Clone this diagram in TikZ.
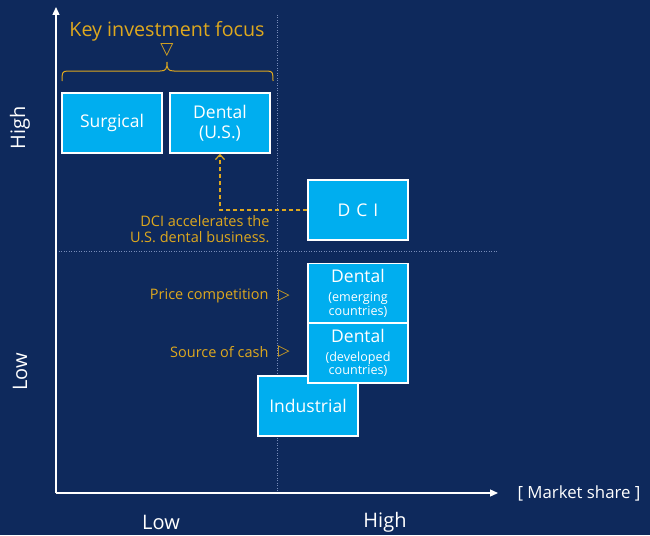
\documentclass[tikz,border=0pt]{standalone}
\usepackage{fontspec}
\setmainfont{Open Sans}
\newfontfamily\symfont{DejaVu Sans}
\newcommand\subsz{\fontsize{12.6}{13}\selectfont}
\usetikzlibrary{arrows.meta}
\definecolor{bg}{RGB}{14,41,92}
\definecolor{boxc}{RGB}{0,174,239}
\definecolor{gold}{RGB}{222,168,30}
\definecolor{dotc}{RGB}{120,140,185}
\tikzset{
  boxn/.style={draw=white, line width=1.4pt, fill=boxc, text=white, minimum width=100pt, minimum height=60pt, inner sep=0pt, align=center, font=\fontsize{17.5}{20}\selectfont},
  axis/.style={draw=white, line width=1.3pt, -{Triangle[length=8pt,width=7pt]}},
  grid/.style={draw=dotc, line width=0.5pt, dash pattern=on 1pt off 1.5pt},
  axlab/.style={text=white, font=\fontsize{20}{23}\selectfont},
  goldlab/.style={text=gold, font=\fontsize{14.5}{16}\selectfont},
  tri/.style={text=gold, font=\symfont\fontsize{15}{16}\selectfont, inner sep=0pt}
}
\begin{document}
\begin{tikzpicture}[x=1pt,y=-1pt]
\fill[bg] (0,0) rectangle (650,535);
\useasboundingbox (0,0) rectangle (650,535);
% grid lines
\draw[grid] (277,15) -- (277,493);
\draw[grid] (56,251) -- (497,251);
% axes
\coordinate (o) at (56,493);
\coordinate (ytip) at (56,7);
\coordinate (xtip) at (498,493);
\draw[axis] (o) -- (ytip);
\draw[axis] (o) -- (xtip);
% axis labels
\node[axlab, rotate=90] (yhigh) at (20,128) {High};
\node[axlab, rotate=90] (ylow) at (20,372) {Low};
\node[axlab] (xlow) at (161,522) {Low};
\node[axlab] (xhigh) at (385,522) {High};
\node[axlab, font=\fontsize{16.8}{19}\selectfont] (xname) at (579,493) {[ Market share ]};
% key investment focus
\node[text=gold, font=\fontsize{19.7}{22}\selectfont] (kif) at (167,31) {Key investment focus};
\node[tri, font=\symfont\fontsize{17}{18}\selectfont] (kiftri) at (167,50) {▽};
\draw[gold, line width=1pt] (62,81) .. controls (62,73) and (62,71) .. (68,71) -- (160,71) .. controls (166,71) and (167,69) .. (167,62)
  .. controls (167,69) and (168,71) .. (174,71) -- (267,71) .. controls (273,71) and (273,73) .. (273,81);
% boxes
\node[boxn] (surgical) at (112,123) {Surgical};
\node[boxn] (dentalus) at (220,123) {Dental\\(U.S.)};
\node[boxn] (dci) at (358,210) {D\hspace{6pt}C\hspace{6pt}I};
\node[boxn] (industrial) at (308,406) {Industrial};
\node[boxn] (dentalem) at (358,293.5) {Dental\\[-1pt]\subsz (emerging\\[-6.5pt]\subsz countries)};
\node[boxn] (dentaldev) at (358,353) {Dental\\[-1pt]\subsz (developed\\[-6.5pt]\subsz countries)};
% dashed connector
\draw[gold, line width=1.2pt, dash pattern=on 4pt off 3pt, -{Straight Barb[length=5pt,width=9pt]}] (dci.west) -| (dentalus.south);
\node[goldlab, align=right, anchor=east] (dcitext) at (273,229) {DCI accelerates the\\U.S. dental business.};
% side labels
\node[goldlab, anchor=east] (price) at (272,296) {Price competition};
\node[tri] (pricetri) at (284,296) {▷};
\node[goldlab, anchor=east] (cash) at (272,352) {Source of cash};
\node[tri] (cashtri) at (284,352) {▷};
\end{tikzpicture}
\end{document}
